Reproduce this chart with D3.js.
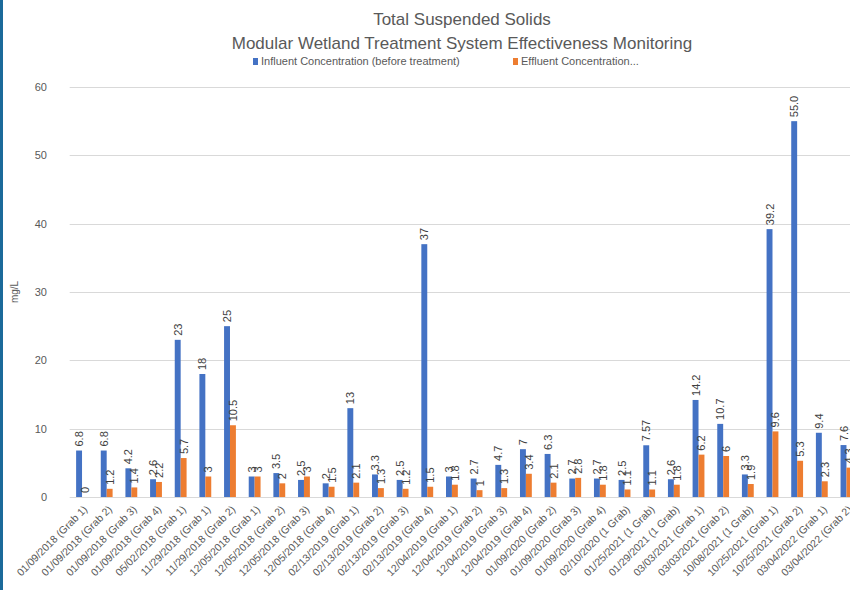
<!DOCTYPE html>
<html>
<head>
<meta charset="utf-8">
<script src="https://cdn.jsdelivr.net/npm/d3@7"></script>
<style>
  body { margin: 0; background: #fff; }
  svg { display: block; font-family: "Liberation Sans", "DejaVu Sans", sans-serif; }
</style>
</head>
<body>
<div id="chart"></div>
<script>
// sample dates / grab labels
const categories = [
    "01/09/2018 (Grab 1)", "01/09/2018 (Grab 2)", "01/09/2018 (Grab 3)", "01/09/2018 (Grab 4)",
    "05/02/2018 (Grab 1)", "11/29/2018 (Grab 1)", "11/29/2018 (Grab 2)", "12/05/2018 (Grab 1)",
    "12/05/2018 (Grab 2)", "12/05/2018 (Grab 3)", "12/05/2018 (Grab 4)", "02/13/2019 (Grab 1)",
    "02/13/2019 (Grab 2)", "02/13/2019 (Grab 3)", "02/13/2019 (Grab 4)", "12/04/2019 (Grab 1)",
    "12/04/2019 (Grab 2)", "12/04/2019 (Grab 3)", "12/04/2019 (Grab 4)", "01/09/2020 (Grab 2)",
    "01/09/2020 (Grab 3)", "01/09/2020 (Grab 4)", "02/10/2020 (1 Grab)", "01/25/2021 (1 Grab)",
    "01/29/2021 (1 Grab)", "03/03/2021 (Grab 1)", "03/03/2021 (Grab 2)", "10/08/2021 (1 Grab)",
    "10/25/2021 (Grab 1)", "10/25/2021 (Grab 2)", "03/04/2022 (Grab 1)", "03/04/2022 (Grab 2)"
];

// labels exactly as printed on the chart
const influent = ["6.8", "6.8", "4.2", "2.6", "23", "18", "25", "3", "3.5", "2.5", "2", "13",
    "3.3", "2.5", "37", "3", "2.7", "4.7", "7", "6.3", "2.7", "2.7", "2.5", "7.57",
    "2.6", "14.2", "10.7", "3.3", "39.2", "55.0", "9.4", "7.6"];
const effluent = ["0", "1.2", "1.4", "2.2", "5.7", "3", "10.5", "3", "2", "3", "1.5", "2.1",
    "1.3", "1.2", "1.5", "1.8", "1", "1.3", "3.4", "2.1", "2.8", "1.8", "1.1", "1.1",
    "1.8", "6.2", "6", "1.9", "9.6", "5.3", "2.3", "4.3"];

const seriesNames = ["Influent Concentration (before treatment)", "Effluent Concentration..."];
const yTicks = [0, 10, 20, 30, 40, 50, 60];

const width = 850, height = 590;
const colors = { inf: "#4472c4", eff: "#ed7d31" };

const rows = categories.map((c, i) => ({
    cat: c,
    vals: [
        { key: "inf", label: influent[i], v: +influent[i] },
        { key: "eff", label: effluent[i], v: +effluent[i] }
    ]
}));

const svg = d3.select("#chart").append("svg")
    .attr("width", width)
    .attr("height", height);

// frame strip on the left
svg.append("rect").attr("x", 0).attr("y", 0).attr("width", 3).attr("height", height).attr("fill", "#1b6a9a");

// plot area runs past the right edge (the reference is cropped)
const x0 = d3.scaleBand()
    .domain(categories)
    .range([69.7, 858.8])
    .paddingInner(0.52)
    .paddingOuter(0.26);

const x1 = d3.scaleBand()
    .domain(["inf", "eff"])
    .range([0, x0.bandwidth()]);

const y = d3.scaleLinear()
    .domain([0, 60])
    .range([497, 87]);

// gridlines
svg.append("g")
    .selectAll("line")
    .data(yTicks)
    .join("line")
    .attr("x1", 69.7)
    .attr("x2", width)
    .attr("y1", d => Math.round(y(d)) + 0.5)
    .attr("y2", d => Math.round(y(d)) + 0.5)
    .attr("stroke", "#d9d9d9")
    .attr("stroke-width", 1);

// y axis labels
const yAxis = svg.append("g")
    .attr("transform", "translate(50,0)")
    .call(d3.axisLeft(y).tickValues(yTicks).tickSize(0).tickPadding(3));
yAxis.select(".domain").remove();
yAxis.selectAll("text").attr("fill", "#595959").style("font-size", "11px");

svg.append("text")
    .attr("transform", "translate(18,292) rotate(-90)")
    .attr("text-anchor", "middle")
    .attr("fill", "#595959")
    .style("font-size", "10px")
    .text("mg/L");

// bars
const groups = svg.append("g")
    .selectAll("g")
    .data(rows)
    .join("g")
    .attr("transform", d => `translate(${x0(d.cat)},0)`);

groups.selectAll("rect")
    .data(d => d.vals)
    .join("rect")
    .attr("x", d => x1(d.key))
    .attr("y", d => y(d.v))
    .attr("width", x1.bandwidth())
    .attr("height", d => y(0) - y(d.v))
    .attr("fill", d => colors[d.key]);

// value labels, rotated
groups.selectAll("text")
    .data(d => d.vals)
    .join("text")
    .attr("transform", d => `translate(${x1(d.key) + x1.bandwidth() / 2 + 4},${y(d.v) - 4}) rotate(-90)`)
    .attr("text-anchor", "start")
    .attr("fill", "#404040")
    .style("font-size", "11px")
    .text(d => d.label);

// x axis labels
const xAxis = svg.append("g")
    .attr("transform", `translate(0,${y(0)})`)
    .call(d3.axisBottom(x0).tickSize(0).tickPadding(0));
xAxis.select(".domain").remove();
xAxis.selectAll("text")
    .attr("fill", "#595959")
    .style("font-size", "10.5px")
    .attr("text-anchor", "end")
    .attr("dy", "0")
    .attr("transform", "translate(6,13) rotate(-45)");

// title
svg.append("text")
    .attr("x", 462).attr("y", 25)
    .attr("text-anchor", "middle")
    .attr("fill", "#595959")
    .style("font-size", "17px")
    .text("Total Suspended Solids");
svg.append("text")
    .attr("x", 462).attr("y", 49)
    .attr("text-anchor", "middle")
    .attr("fill", "#595959")
    .style("font-size", "17px")
    .text("Modular Wetland Treatment System Effectiveness Monitoring");

// legend
const legendX = [253, 513];
const legend = svg.append("g")
    .selectAll("g")
    .data(seriesNames)
    .join("g")
    .attr("transform", (d, i) => `translate(${legendX[i]},62)`);
legend.append("rect")
    .attr("x", 0).attr("y", -4)
    .attr("width", 5).attr("height", 7)
    .attr("fill", (d, i) => i === 0 ? colors.inf : colors.eff);
legend.append("text")
    .attr("x", 8).attr("y", 3)
    .attr("fill", "#595959")
    .style("font-size", "11px")
    .text(d => d);
</script>
</body>
</html>
